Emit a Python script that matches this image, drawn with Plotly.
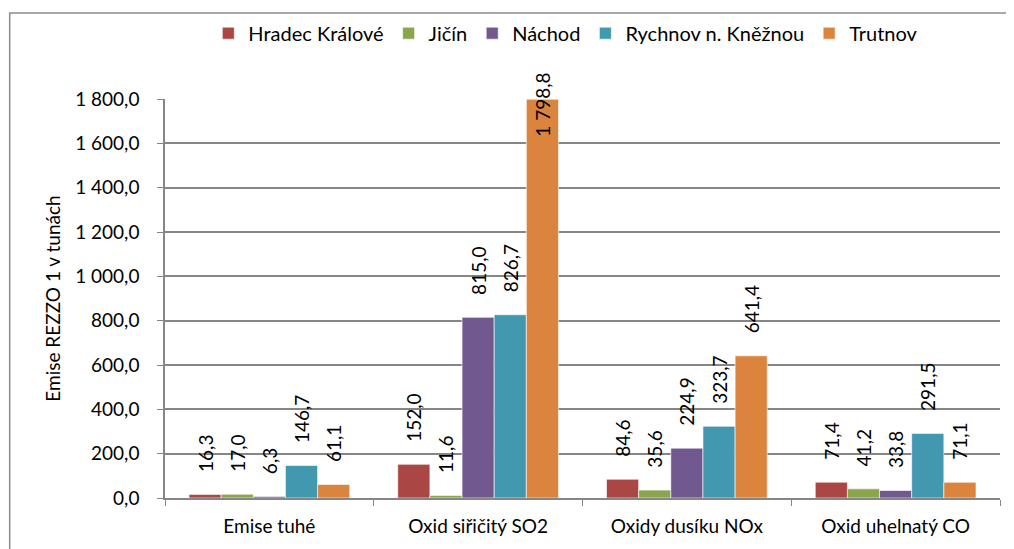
import plotly.graph_objects as go

categories = ["Emise tuhé", "Oxid siřičitý SO2", "Oxidy dusíku NOx", "Oxid uhelnatý CO"]
series_names = ["Hradec Králové", "Jičín", "Náchod", "Rychnov n. Kněžnou", "Trutnov"]
hradec = [16.3, 152.0, 84.6, 71.4]
jicin = [17.0, 11.6, 35.6, 41.2]
nachod = [6.3, 815.0, 224.9, 33.8]
rychnov = [146.7, 826.7, 323.7, 291.5]
trutnov = [61.1, 1798.8, 641.4, 71.1]
series_values = [hradec, jicin, nachod, rychnov, trutnov]
colors = ["#AA4643", "#89A54E", "#71588F", "#4198AF", "#DB843D"]
y_ticks = [0, 200, 400, 600, 800, 1000, 1200, 1400, 1600, 1800]

FONT = "Lato"
FS = 19
y_max = 1800
BARGAP = 0.23

# page body has an 8px margin; figure is sized to fit the viewport
W, H = 1006, 541
ML, MR, MT, MB = 157, 14, 91, 51
plot_w = W - ML - MR
cat_w = plot_w / len(categories)
bar_w = cat_w * (1 - BARGAP) / len(series_names)

fig = go.Figure()
annotations = []
for si, (name, vals, col) in enumerate(zip(series_names, series_values, colors)):
    positions = []
    for ci, v in enumerate(vals):
        if v >= y_max * 0.95:
            positions.append("none")
            annotations.append(dict(
                x=categories[ci], y=v, xref="x", yref="y",
                text=f"{v:,.1f}".replace(",", " ").replace(".", ","),
                textangle=-90, showarrow=False,
                xshift=(si - (len(series_names) - 1) / 2) * bar_w,
                yshift=-5, yanchor="middle", xanchor="center",
                font=dict(family=FONT, size=FS, color="black")))
        else:
            positions.append("outside")
    fig.add_trace(go.Bar(
        name=name, x=categories, y=vals,
        marker=dict(color=col, line=dict(color="rgba(255,255,255,0.6)", width=1)),
        texttemplate="\u00a0\u00a0\u00a0\u00a0%{y:,.1f}",
        textposition=positions,
        textangle=-90,
        constraintext="none",
        textfont=dict(family=FONT, size=FS, color="black"),
        outsidetextfont=dict(family=FONT, size=FS, color="black"),
        cliponaxis=False,
    ))

fig.update_layout(
    width=W, height=H,
    margin=dict(l=ML, r=MR, t=MT, b=MB, autoexpand=False),
    paper_bgcolor="white", plot_bgcolor="white",
    separators=", ",
    barmode="group", bargap=BARGAP, bargroupgap=0,
    font=dict(family=FONT, size=FS, color="black"),
    legend=dict(orientation="h", x=0.48, xanchor="center", y=1.165, yanchor="middle",
                font=dict(family=FONT, size=20), traceorder="normal",
                itemwidth=30, bgcolor="rgba(0,0,0,0)"),
    xaxis=dict(showline=True, linecolor="#868686", linewidth=1.5,
               ticks="outside", tickson="boundaries", ticklen=6, tickcolor="#868686",
               ticklabelstandoff=10,
               tickfont=dict(family=FONT, size=FS), showgrid=False),
    yaxis=dict(range=[0, y_max], tickvals=y_ticks, tickformat=",.1f",
               showline=True, linecolor="#868686", linewidth=1.5,
               ticks="outside", ticklen=6, tickcolor="#868686",
               ticklabelstandoff=14,
               showgrid=True, gridcolor="#868686", gridwidth=1.5,
               zeroline=False,
               tickfont=dict(family=FONT, size=FS),
               title=dict(text="Emise REZZO 1 v tunách", standoff=10,
                          font=dict(family=FONT, size=FS))),
    annotations=annotations,
    shapes=[dict(type="rect", xref="paper", yref="paper",
                 x0=-0.186, x1=1.03, y0=-0.16, y1=1.2155,
                 line=dict(color="#8c8c8c", width=1.5), fillcolor="rgba(0,0,0,0)",
                 layer="below")],
)

fig.write_html("out.html")
